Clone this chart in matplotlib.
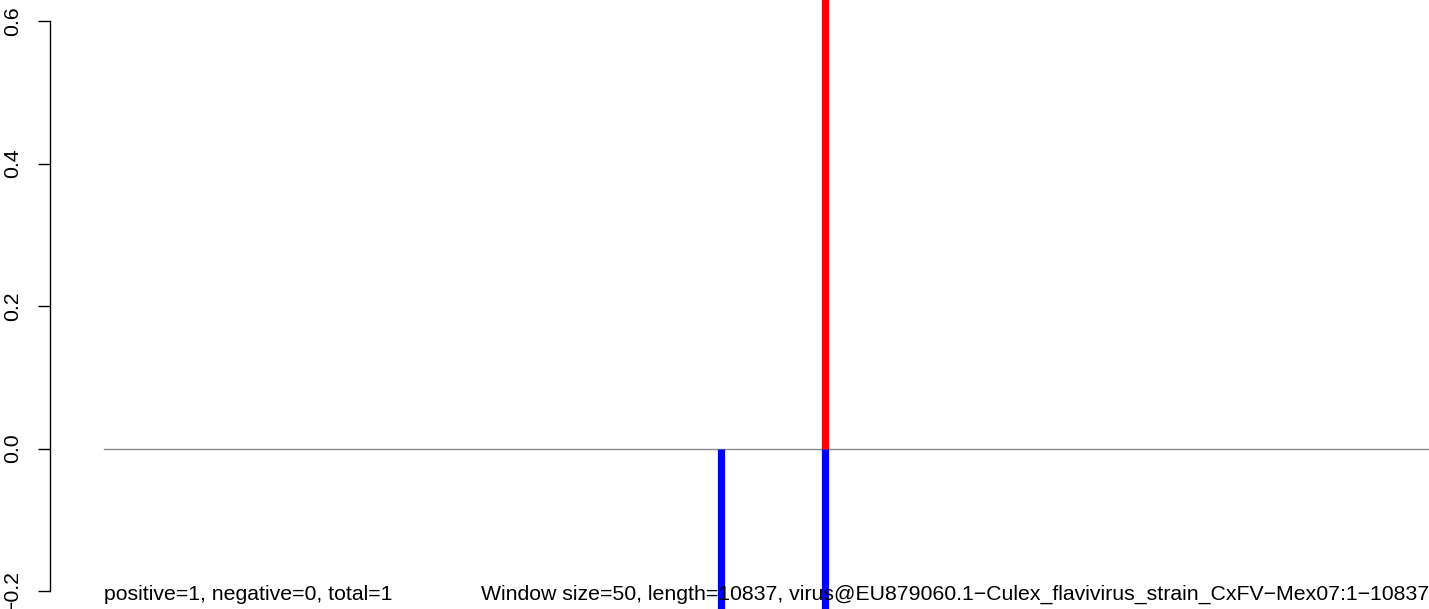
import matplotlib.pyplot as plt

plt.rcParams['font.family'] = ['Liberation Sans', 'DejaVu Sans']

seq_len = 10837
positions = [5050, 5900]
pos_vals = [0.0, 1.0]
neg_vals = [-1.0, -1.0]
yticks = [-0.2, 0.0, 0.2, 0.4, 0.6]
info_left = "positive=1, negative=0, total=1"
info_right = ("Window size=50, length=10837, "
              "virus@EU879060.1\u2212Culex_flavivirus_strain_CxFV\u2212Mex07:1\u221210837")

fig = plt.figure(figsize=(14.29, 6.09), dpi=100)
ax = fig.add_axes([0, 0, 1, 1])

px = seq_len / 1325.0
ax.set_xlim(-104 * px, 1325 * px)
ax.set_ylim(-0.2 - 18 / 712.5, 0.6 + 21 / 712.5)

ax.axhline(0, xmin=104 / 1429, xmax=1.0, color="#8c8c8c", lw=1.0, zorder=1)
for x, p, n in zip(positions, pos_vals, neg_vals):
    if p > 0:
        ax.vlines(x, 0, p, color="#ff0000", lw=5.2, zorder=2)
    if n < 0:
        ax.vlines(x, n, 0, color="#0000ff", lw=5.2, zorder=2)

for s in ["top", "right", "bottom"]:
    ax.spines[s].set_visible(False)
ax.spines["left"].set_position(("axes", 50 / 1429))
ax.spines["left"].set_bounds(-0.2, 0.6)
ax.spines["left"].set_linewidth(1.0)
ax.set_yticks(yticks)
ax.set_yticklabels(["\u22120.2", "0.0", "0.2", "0.4", "0.6"])
ax.tick_params(axis="y", length=8.6, width=1.0, pad=11.5, labelsize=15.3, labelrotation=90)
for lab in ax.get_yticklabels():
    lab.set_va("center")
ax.set_xticks([])

ax.text(0, -0.212, info_left, fontsize=15.3, ha="left", va="baseline")
ax.text(seq_len, -0.212, info_right, fontsize=15.3, ha="right", va="baseline")

fig.savefig("out.png", dpi=100)
